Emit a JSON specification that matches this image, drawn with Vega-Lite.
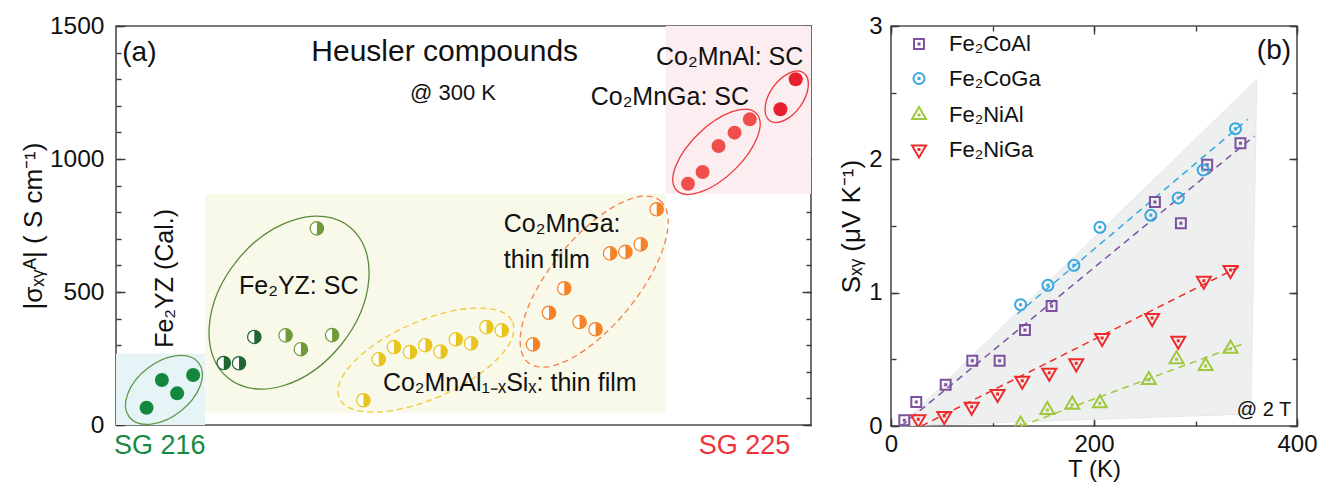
{
  "$schema": "https://vega.github.io/schema/vega-lite/v6.json",
  "background": "white",
  "padding": {"left": 19, "top": 12, "right": 0, "bottom": 0},
  "bounds": "flush",
  "spacing": 80,
  "resolve": {"scale": {"color": "independent"}},
  "config": {
    "view": {"stroke": "#4d4d4d", "strokeWidth": 1.6},
    "font": "Liberation Sans",
    "axis": {"domain": false, "grid": false, "ticks": true, "zindex": 1, "labelFont": "Liberation Sans", "titleFont": "Liberation Sans", "labelColor": "#111", "titleColor": "#111", "titleFontWeight": "normal", "tickColor": "#3a3a3a", "tickWidth": 1.4, "labelFlush": false, "labelOverlap": false},
    "legend": {"labelFont": "Liberation Sans"},
    "text": {"font": "Liberation Sans"}
  },
  "datasets": {
    "bgs": [
      {"region": "SG 216", "x0": 0, "x1": 12.8, "y0": 0, "y1": 268},
      {"region": "mid", "x0": 12.8, "x1": 79.1, "y0": 46, "y1": 869},
      {"region": "SG 225", "x0": 79.1, "x1": 100, "y0": 869, "y1": 1500}
    ],
    "ellipses": [
      {"name": "Cal", "x": 6.9, "y": 132},
      {"name": "YZ", "x": 24.9, "y": 460},
      {"name": "AlSi", "x": 44.6, "y": 244},
      {"name": "GaFilm", "x": 68.8, "y": 539},
      {"name": "GaSC", "x": 86.4, "y": 1027},
      {"name": "AlSC", "x": 96.5, "y": 1234}
    ],
    "sigma": [
      {"group": "Fe2YZ calc", "x": 4.4, "y": 65},
      {"group": "Fe2YZ calc", "x": 6.6, "y": 169},
      {"group": "Fe2YZ calc", "x": 8.8, "y": 119},
      {"group": "Fe2YZ calc", "x": 11.1, "y": 188},
      {"group": "Fe2YZ SC dark", "x": 15.5, "y": 233},
      {"group": "Fe2YZ SC dark", "x": 17.7, "y": 232},
      {"group": "Fe2YZ SC dark", "x": 19.9, "y": 331},
      {"group": "Fe2YZ SC", "x": 24.4, "y": 337},
      {"group": "Fe2YZ SC", "x": 26.6, "y": 285},
      {"group": "Fe2YZ SC", "x": 28.9, "y": 739},
      {"group": "Fe2YZ SC", "x": 31.1, "y": 338},
      {"group": "Co2MnAlSi film", "x": 35.6, "y": 93},
      {"group": "Co2MnAlSi film", "x": 37.8, "y": 247},
      {"group": "Co2MnAlSi film", "x": 40.0, "y": 293},
      {"group": "Co2MnAlSi film", "x": 42.3, "y": 274},
      {"group": "Co2MnAlSi film", "x": 44.5, "y": 300},
      {"group": "Co2MnAlSi film", "x": 46.7, "y": 276},
      {"group": "Co2MnAlSi film", "x": 48.9, "y": 322},
      {"group": "Co2MnAlSi film", "x": 51.1, "y": 307},
      {"group": "Co2MnAlSi film", "x": 53.3, "y": 368},
      {"group": "Co2MnAlSi film", "x": 55.5, "y": 356},
      {"group": "Co2MnGa film", "x": 60.0, "y": 303},
      {"group": "Co2MnGa film", "x": 62.3, "y": 422},
      {"group": "Co2MnGa film", "x": 64.5, "y": 514},
      {"group": "Co2MnGa film", "x": 66.7, "y": 387},
      {"group": "Co2MnGa film", "x": 69.0, "y": 360},
      {"group": "Co2MnGa film", "x": 71.1, "y": 645},
      {"group": "Co2MnGa film", "x": 73.3, "y": 651},
      {"group": "Co2MnGa film", "x": 75.5, "y": 679},
      {"group": "Co2MnGa film", "x": 77.8, "y": 811},
      {"group": "Co2MnGa SC", "x": 82.3, "y": 907},
      {"group": "Co2MnGa SC", "x": 84.4, "y": 951},
      {"group": "Co2MnGa SC", "x": 86.7, "y": 1049},
      {"group": "Co2MnGa SC", "x": 89.0, "y": 1099},
      {"group": "Co2MnGa SC", "x": 91.2, "y": 1149},
      {"group": "Co2MnAl SC", "x": 95.6, "y": 1187},
      {"group": "Co2MnAl SC", "x": 97.8, "y": 1300}
    ],
    "texta": [
      {"kind": "panel", "text": "(a)", "x": 0.9, "y": 1368},
      {"kind": "title", "text": "Heusler compounds", "x": 28.1, "y": 1368},
      {"kind": "note", "text": "@ 300 K", "x": 42.3, "y": 1222},
      {"kind": "compound", "text": "Co₂MnAl: SC", "x": 77.7, "y": 1353},
      {"kind": "compound", "text": "Co₂MnGa: SC", "x": 68.3, "y": 1203},
      {"kind": "compound", "text": "Co₂MnGa:", "x": 55.8, "y": 727},
      {"kind": "compound", "text": "thin film", "x": 55.8, "y": 589},
      {"kind": "compound", "text": "Co₂MnAl₁₋ₓSiₓ: thin film", "x": 38.4, "y": 128},
      {"kind": "compound", "text": "Fe₂YZ: SC", "x": 17.7, "y": 491},
      {"kind": "vertical", "text": "Fe₂YZ (Cal.)", "x": 8.2, "y": 290}
    ],
    "seebeck": [
      {"series": "Fe₂CoAl", "T": 13.1, "S": 0.043},
      {"series": "Fe₂CoAl", "T": 24.9, "S": 0.18},
      {"series": "Fe₂CoAl", "T": 53.9, "S": 0.31},
      {"series": "Fe₂CoAl", "T": 80.1, "S": 0.49},
      {"series": "Fe₂CoAl", "T": 107, "S": 0.49},
      {"series": "Fe₂CoAl", "T": 132, "S": 0.72},
      {"series": "Fe₂CoAl", "T": 158.2, "S": 0.9},
      {"series": "Fe₂CoAl", "T": 260, "S": 1.68},
      {"series": "Fe₂CoAl", "T": 285.6, "S": 1.52},
      {"series": "Fe₂CoAl", "T": 311.5, "S": 1.96},
      {"series": "Fe₂CoAl", "T": 344.3, "S": 2.12},
      {"series": "Fe₂CoGa", "T": 127.7, "S": 0.91},
      {"series": "Fe₂CoGa", "T": 154.6, "S": 1.055},
      {"series": "Fe₂CoGa", "T": 180.2, "S": 1.205},
      {"series": "Fe₂CoGa", "T": 205.8, "S": 1.49},
      {"series": "Fe₂CoGa", "T": 256, "S": 1.58},
      {"series": "Fe₂CoGa", "T": 283, "S": 1.71},
      {"series": "Fe₂CoGa", "T": 307.6, "S": 1.92},
      {"series": "Fe₂CoGa", "T": 339.4, "S": 2.23},
      {"series": "Fe₂NiAl", "T": 127.7, "S": 0.01},
      {"series": "Fe₂NiAl", "T": 154, "S": 0.12},
      {"series": "Fe₂NiAl", "T": 178.6, "S": 0.16},
      {"series": "Fe₂NiAl", "T": 205.8, "S": 0.17},
      {"series": "Fe₂NiAl", "T": 254, "S": 0.345},
      {"series": "Fe₂NiAl", "T": 281.3, "S": 0.5},
      {"series": "Fe₂NiAl", "T": 310, "S": 0.45},
      {"series": "Fe₂NiAl", "T": 334.5, "S": 0.58},
      {"series": "Fe₂NiGa", "T": 26.9, "S": 0.05},
      {"series": "Fe₂NiGa", "T": 52.5, "S": 0.075},
      {"series": "Fe₂NiGa", "T": 79.5, "S": 0.145},
      {"series": "Fe₂NiGa", "T": 105, "S": 0.24},
      {"series": "Fe₂NiGa", "T": 129.3, "S": 0.34},
      {"series": "Fe₂NiGa", "T": 155.9, "S": 0.4},
      {"series": "Fe₂NiGa", "T": 182.5, "S": 0.47},
      {"series": "Fe₂NiGa", "T": 208, "S": 0.66},
      {"series": "Fe₂NiGa", "T": 257.3, "S": 0.81},
      {"series": "Fe₂NiGa", "T": 283, "S": 0.64},
      {"series": "Fe₂NiGa", "T": 308.2, "S": 1.09},
      {"series": "Fe₂NiGa", "T": 334.5, "S": 1.17}
    ],
    "fits": [
      {"series": "Fe₂CoAl", "T": 10, "S": 0},
      {"series": "Fe₂CoAl", "T": 358, "S": 2.175},
      {"series": "Fe₂CoGa", "T": 124.4, "S": 0.84},
      {"series": "Fe₂CoGa", "T": 351.5, "S": 2.3},
      {"series": "Fe₂NiAl", "T": 128, "S": 0},
      {"series": "Fe₂NiAl", "T": 350, "S": 0.625},
      {"series": "Fe₂NiGa", "T": 30, "S": 0},
      {"series": "Fe₂NiGa", "T": 347, "S": 1.21}
    ],
    "shade": [
      {"T": 8.9, "lo": 0, "hi": 0},
      {"T": 354.5, "lo": 0.09, "hi": 2.556},
      {"T": 360.4, "lo": 2.6, "hi": 2.6}
    ],
    "textb": [
      {"kind": "panel", "text": "(b)", "T": 360.4, "S": 2.75},
      {"kind": "note", "text": "@ 2 T", "T": 340.7, "S": 0.075}
    ]
  },
  "hconcat": [
    {
      "width": 695,
      "height": 399,
      "resolve": {"axis": {"x": "independent", "y": "independent"}},
      "layer": [
        {
          "data": {"name": "bgs"},
          "mark": {"type": "rect"},
          "encoding": {
            "x": {"field": "x0", "type": "quantitative", "scale": {"domain": [0, 100], "nice": false, "zero": false},
              "axis": {"orient": "bottom", "values": [6.23, 90.36], "ticks": false, "labelPadding": 7, "labelFontSize": 27, "title": null,
                "labelExpr": "datum.value < 50 ? 'SG 216' : 'SG 225'",
                "labelColor": {"condition": {"test": "datum.value < 50", "value": "#178a3e"}, "value": "#ee3338"}}},
            "x2": {"field": "x1"},
            "y": {"field": "y0", "type": "quantitative", "scale": {"domain": [0, 1500], "nice": false},
              "axis": {"orient": "left", "values": [0, 500, 1000, 1500], "format": "d", "tickSize": -9, "labelPadding": 21, "labelFontSize": 24.5, "title": "|σₓᵧᴬ| ( S cm⁻¹)", "titleFontSize": 26, "titlePadding": 3}},
            "y2": {"field": "y1"},
            "fill": {"field": "region", "type": "nominal", "scale": {"domain": ["SG 216", "mid", "SG 225"], "range": ["#e6f4f8", "#f9f9ea", "#fcedf0"]}, "legend": null}
          }
        },
        {
          "data": {"name": "ellipses"},
          "transform": [{"filter": "datum.name === 'Cal'"}],
          "mark": {"type": "point", "shape": "M1,0 C1,0.339 0.552,0.614 0,0.614 C-0.552,0.614 -1,0.339 -1,0 C-1,-0.339 -0.552,-0.614 0,-0.614 C0.552,-0.614 1,-0.339 1,0 Z", "size": 7744, "angle": 322, "filled": false, "stroke": "#5f9a48", "strokeWidth": 1.3, "opacity": 1},
          "encoding": {"x": {"field": "x", "type": "quantitative", "axis": null}, "y": {"field": "y", "type": "quantitative", "axis": null}}
        },
        {
          "data": {"name": "ellipses"},
          "transform": [{"filter": "datum.name === 'YZ'"}],
          "mark": {"type": "point", "shape": "M1,0 C1,0.381 0.552,0.69 0,0.69 C-0.552,0.69 -1,0.381 -1,0 C-1,-0.381 -0.552,-0.69 0,-0.69 C0.552,-0.69 1,-0.381 1,0 Z", "size": 37636, "angle": 308.7, "filled": false, "stroke": "#5a8a3a", "strokeWidth": 1.3, "opacity": 1},
          "encoding": {"x": {"field": "x", "type": "quantitative", "axis": null}, "y": {"field": "y", "type": "quantitative", "axis": null}}
        },
        {
          "data": {"name": "ellipses"},
          "transform": [{"filter": "datum.name === 'AlSi'"}],
          "mark": {"type": "point", "shape": "M1,0 C1,0.226 0.552,0.409 0,0.409 C-0.552,0.409 -1,0.226 -1,0 C-1,-0.226 -0.552,-0.409 0,-0.409 C0.552,-0.409 1,-0.226 1,0 Z", "size": 35796, "angle": 336.2, "filled": false, "stroke": "#f0c838", "strokeWidth": 1.3, "strokeDash": [6, 4], "opacity": 1},
          "encoding": {"x": {"field": "x", "type": "quantitative", "axis": null}, "y": {"field": "y", "type": "quantitative", "axis": null}}
        },
        {
          "data": {"name": "ellipses"},
          "transform": [{"filter": "datum.name === 'GaFilm'"}],
          "mark": {"type": "point", "shape": "M1,0 C1,0.23 0.552,0.417 0,0.417 C-0.552,0.417 -1,0.23 -1,0 C-1,-0.23 -0.552,-0.417 0,-0.417 C0.552,-0.417 1,-0.23 1,0 Z", "size": 43597, "angle": 309.1, "filled": false, "stroke": "#f4804e", "strokeWidth": 1.3, "strokeDash": [6, 4], "opacity": 1},
          "encoding": {"x": {"field": "x", "type": "quantitative", "axis": null}, "y": {"field": "y", "type": "quantitative", "axis": null}}
        },
        {
          "data": {"name": "ellipses"},
          "transform": [{"filter": "datum.name === 'GaSC'"}],
          "mark": {"type": "point", "shape": "M1,0 C1,0.254 0.552,0.46 0,0.46 C-0.552,0.46 -1,0.254 -1,0 C-1,-0.254 -0.552,-0.46 0,-0.46 C0.552,-0.46 1,-0.254 1,0 Z", "size": 12277, "angle": 316, "filled": false, "stroke": "#ec3a3e", "strokeWidth": 1.3, "opacity": 1},
          "encoding": {"x": {"field": "x", "type": "quantitative", "axis": null}, "y": {"field": "y", "type": "quantitative", "axis": null}}
        },
        {
          "data": {"name": "ellipses"},
          "transform": [{"filter": "datum.name === 'AlSC'"}],
          "mark": {"type": "point", "shape": "M1,0 C1,0.313 0.552,0.567 0,0.567 C-0.552,0.567 -1,0.313 -1,0 C-1,-0.313 -0.552,-0.567 0,-0.567 C0.552,-0.567 1,-0.313 1,0 Z", "size": 3434, "angle": 305.3, "filled": false, "stroke": "#ec3a3e", "strokeWidth": 1.3, "opacity": 1},
          "encoding": {"x": {"field": "x", "type": "quantitative", "axis": null}, "y": {"field": "y", "type": "quantitative", "axis": null}}
        },
        {
          "data": {"name": "sigma"},
          "transform": [{"filter": "indexof(['Fe2YZ calc', 'Co2MnGa SC', 'Co2MnAl SC'], datum.group) >= 0"}],
          "mark": {"type": "point", "shape": "circle", "filled": true, "size": 196, "opacity": 1, "strokeWidth": 0},
          "encoding": {
            "x": {"field": "x", "type": "quantitative", "axis": null},
            "y": {"field": "y", "type": "quantitative", "axis": {"orient": "left", "values": [0, 100, 200, 300, 400, 500, 600, 700, 800, 900, 1000, 1100, 1200, 1300, 1400, 1500], "tickSize": -5, "labels": false, "title": null}},
            "color": {"field": "group", "type": "nominal", "legend": null,
              "scale": {"domain": ["Fe2YZ calc", "Fe2YZ SC dark", "Fe2YZ SC", "Co2MnAlSi film", "Co2MnGa film", "Co2MnGa SC", "Co2MnAl SC"], "range": ["#13873d", "#1f6632", "#6f9a37", "#e8c420", "#f58226", "#ee4f4b", "#e81f2d"]}}
          }
        },
        {
          "data": {"name": "sigma"},
          "transform": [{"filter": "indexof(['Fe2YZ calc', 'Co2MnGa SC', 'Co2MnAl SC'], datum.group) < 0"}],
          "mark": {"type": "point", "shape": "circle", "filled": false, "fill": "white", "size": 180, "opacity": 1, "strokeWidth": 1.2},
          "encoding": {
            "x": {"field": "x", "type": "quantitative", "axis": null},
            "y": {"field": "y", "type": "quantitative", "axis": {"orient": "right", "values": [0, 500, 1000, 1500], "tickSize": -9, "labels": false, "title": null}},
            "color": {"field": "group", "type": "nominal", "legend": null}
          }
        },
        {
          "data": {"name": "sigma"},
          "transform": [{"filter": "indexof(['Fe2YZ calc', 'Co2MnGa SC', 'Co2MnAl SC'], datum.group) < 0"}],
          "mark": {"type": "point", "shape": "M0,-1 C0.5523,-1 1,-0.5523 1,0 C1,0.5523 0.5523,1 0,1 Z", "filled": true, "size": 180, "opacity": 1, "strokeWidth": 0},
          "encoding": {
            "x": {"field": "x", "type": "quantitative", "axis": null},
            "y": {"field": "y", "type": "quantitative", "axis": {"orient": "right", "values": [0, 100, 200, 300, 400, 500, 600, 700, 800, 900, 1000, 1100, 1200, 1300, 1400, 1500], "tickSize": -5, "labels": false, "title": null}},
            "color": {"field": "group", "type": "nominal", "legend": null}
          }
        },
        {
          "data": {"name": "texta"},
          "transform": [{"filter": "datum.kind === 'compound'"}],
          "mark": {"type": "text", "align": "left", "baseline": "alphabetic", "fontSize": 25, "color": "#111"},
          "encoding": {"x": {"field": "x", "type": "quantitative", "axis": null}, "y": {"field": "y", "type": "quantitative", "axis": null}, "text": {"field": "text"}}
        },
        {
          "data": {"name": "texta"},
          "transform": [{"filter": "datum.kind === 'vertical'"}],
          "mark": {"type": "text", "align": "left", "baseline": "alphabetic", "fontSize": 25, "angle": 270, "color": "#111"},
          "encoding": {"x": {"field": "x", "type": "quantitative", "axis": null}, "y": {"field": "y", "type": "quantitative", "axis": null}, "text": {"field": "text"}}
        },
        {
          "data": {"name": "texta"},
          "transform": [{"filter": "datum.kind === 'title'"}],
          "mark": {"type": "text", "align": "left", "baseline": "alphabetic", "fontSize": 30, "color": "#111"},
          "encoding": {"x": {"field": "x", "type": "quantitative", "axis": null}, "y": {"field": "y", "type": "quantitative", "axis": null}, "text": {"field": "text"}}
        },
        {
          "data": {"name": "texta"},
          "transform": [{"filter": "datum.kind === 'panel'"}],
          "mark": {"type": "text", "align": "left", "baseline": "alphabetic", "fontSize": 28, "color": "#111"},
          "encoding": {"x": {"field": "x", "type": "quantitative", "axis": null}, "y": {"field": "y", "type": "quantitative", "axis": null}, "text": {"field": "text"}}
        },
        {
          "data": {"name": "texta"},
          "transform": [{"filter": "datum.kind === 'note'"}],
          "mark": {"type": "text", "align": "left", "baseline": "alphabetic", "fontSize": 22, "color": "#111"},
          "encoding": {"x": {"field": "x", "type": "quantitative", "axis": null}, "y": {"field": "y", "type": "quantitative", "axis": null}, "text": {"field": "text"}}
        }
      ]
    },
    {
      "width": 406,
      "height": 400,
      "resolve": {"axis": {"x": "independent", "y": "independent"}},
      "layer": [
        {
          "data": {"name": "shade"},
          "mark": {"type": "area", "fill": "#eef0f0", "stroke": "#e2e5e5", "strokeWidth": 0.8},
          "encoding": {
            "x": {"field": "T", "type": "quantitative", "scale": {"domain": [0, 400], "nice": false},
              "axis": {"orient": "bottom", "values": [0, 200, 400], "tickSize": -8, "labelPadding": 14, "labelFontSize": 24, "title": "T (K)", "titleFontSize": 24, "titlePadding": 1}},
            "y": {"field": "hi", "type": "quantitative", "scale": {"domain": [0, 3], "nice": false},
              "axis": {"orient": "left", "values": [0, 1, 2, 3], "tickSize": -8, "labelPadding": 17, "labelFontSize": 24, "title": "Sₓᵧ (μV K⁻¹)", "titleFontSize": 26, "titlePadding": 4}},
            "y2": {"field": "lo"}
          }
        },
        {
          "data": {"name": "fits"},
          "mark": {"type": "line", "strokeDash": [7, 5], "strokeWidth": 1.5},
          "encoding": {
            "x": {"field": "T", "type": "quantitative", "axis": {"orient": "bottom", "values": [0, 100, 200, 300, 400], "tickSize": -5, "labels": false, "title": null}},
            "y": {"field": "S", "type": "quantitative", "axis": {"orient": "left", "values": [0, 0.5, 1, 1.5, 2, 2.5, 3], "tickSize": -5, "labels": false, "title": null}},
            "color": {"field": "series", "type": "nominal", "legend": null,
              "scale": {"domain": ["Fe₂CoAl", "Fe₂CoGa", "Fe₂NiAl", "Fe₂NiGa"], "range": ["#7d50a0", "#3aa8e0", "#a0c83c", "#ee2a2a"]}},
            "detail": {"field": "series"}
          }
        },
        {
          "data": {"name": "seebeck"},
          "mark": {"type": "point", "filled": false, "strokeWidth": 2, "size": 256, "opacity": 1, "clip": true},
          "encoding": {
            "x": {"field": "T", "type": "quantitative", "axis": {"orient": "top", "values": [0, 200, 400], "tickSize": -8, "labels": false, "title": null}},
            "y": {"field": "S", "type": "quantitative", "axis": {"orient": "right", "values": [0, 1, 2, 3], "tickSize": -8, "labels": false, "title": null}},
            "stroke": {"field": "series", "type": "nominal",
              "scale": {"domain": ["Fe₂CoAl", "Fe₂CoGa", "Fe₂NiAl", "Fe₂NiGa"], "range": ["#7d50a0", "#3aa8e0", "#a0c83c", "#ee2a2a"]},
              "legend": {"orient": "none", "legendX": 792, "legendY": 7, "title": null, "labelFontSize": 22, "labelColor": "#111", "symbolSize": 256, "symbolStrokeWidth": 2, "rowPadding": 12.5, "labelOffset": 19, "padding": 0}},
            "shape": {"field": "series", "type": "nominal",
              "scale": {"domain": ["Fe₂CoAl", "Fe₂CoGa", "Fe₂NiAl", "Fe₂NiGa"], "range": [
                "M-0.62,-0.62 L0.62,-0.62 L0.62,0.62 L-0.62,0.62 Z M-0.06,-0.06 L0.06,-0.06 L0.06,0.06 L-0.06,0.06 Z",
                "M0.69,0 C0.69,0.381 0.381,0.69 0,0.69 C-0.381,0.69 -0.69,0.381 -0.69,0 C-0.69,-0.381 -0.381,-0.69 0,-0.69 C0.381,-0.69 0.69,-0.381 0.69,0 Z M-0.06,-0.06 L0.06,-0.06 L0.06,0.06 L-0.06,0.06 Z",
                "M0,-1.01 L0.875,0.505 L-0.875,0.505 Z M-0.06,-0.06 L0.06,-0.06 L0.06,0.06 L-0.06,0.06 Z",
                "M0,1.01 L0.875,-0.505 L-0.875,-0.505 Z M-0.06,-0.06 L0.06,-0.06 L0.06,0.06 L-0.06,0.06 Z"]},
              "legend": {"orient": "none", "legendX": 792, "legendY": 7, "title": null, "labelFontSize": 22, "labelColor": "#111", "symbolSize": 256, "symbolStrokeWidth": 2, "rowPadding": 12.5, "labelOffset": 19, "padding": 0}}
          }
        },
        {
          "data": {"name": "textb"},
          "transform": [{"filter": "datum.kind === 'panel'"}],
          "mark": {"type": "text", "align": "left", "baseline": "alphabetic", "fontSize": 28, "color": "#111"},
          "encoding": {
            "x": {"field": "T", "type": "quantitative", "axis": {"orient": "top", "values": [0, 100, 200, 300, 400], "tickSize": -5, "labels": false, "title": null}},
            "y": {"field": "S", "type": "quantitative", "axis": {"orient": "right", "values": [0, 0.5, 1, 1.5, 2, 2.5, 3], "tickSize": -5, "labels": false, "title": null}},
            "text": {"field": "text"}
          }
        },
        {
          "data": {"name": "textb"},
          "transform": [{"filter": "datum.kind === 'note'"}],
          "mark": {"type": "text", "align": "left", "baseline": "alphabetic", "fontSize": 20, "color": "#111"},
          "encoding": {
            "x": {"field": "T", "type": "quantitative", "axis": null},
            "y": {"field": "S", "type": "quantitative", "axis": null},
            "text": {"field": "text"}
          }
        }
      ]
    }
  ]
}
